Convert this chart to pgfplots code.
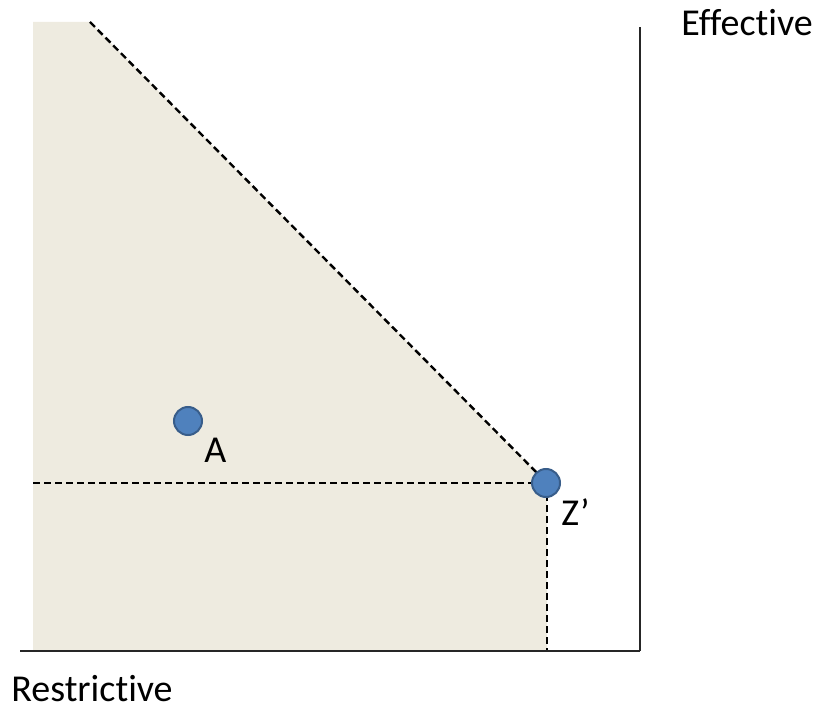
\documentclass[border=0pt]{standalone}
\usepackage{pgfplots}
\pgfplotsset{compat=1.18}
\usepackage{fontspec}
\setmainfont[Ligatures={NoCommon}]{Carlito}
\definecolor{regionfill}{HTML}{EEEBE0}
\definecolor{dotfill}{HTML}{4F81BD}
\definecolor{dotedge}{HTML}{385D8A}
\begin{document}
\begin{tikzpicture}
\begin{axis}[
  width=412pt, height=356pt, scale only axis,
  xmin=0, xmax=824, ymin=0, ymax=712,
  hide axis, clip=false,
]
% invisible frame to fix bounding box
\addplot[draw=none, forget plot] coordinates {(0,0) (824,712)};
% feasible region
\addplot[fill=regionfill, draw=none] coordinates {(33,62) (33,690) (90,690) (547,229) (547,62)} -- cycle;
% dashed boundaries
\addplot[black, line width=1.2pt, dash pattern=on 3.5pt off 2pt] coordinates {(90,690) (547,229)};
\addplot[black, line width=1.2pt, dash pattern=on 3.5pt off 2pt] coordinates {(33,229) (547,229)};
\addplot[black, line width=1.2pt, dash pattern=on 3.5pt off 2pt] coordinates {(547,229) (547,62)};
% axes
\addplot[black!85, line width=1pt] coordinates {(20,61) (640,61)};
\addplot[black!85, line width=1pt] coordinates {(640,61) (640,685)};
% points
\addplot[only marks, mark=*, mark size=7pt, mark options={fill=dotfill, draw=dotedge, line width=1pt}] coordinates {(188,291) (546,229)};
\node[inner sep=0pt, anchor=base west, font=\fontsize{19}{22}\selectfont] at (axis cs:204,249) {A};
\node[inner sep=0pt, anchor=base west, font=\fontsize{19}{22}\selectfont] at (axis cs:561,186) {Z’};
\node[inner sep=0pt, anchor=base west, font=\fontsize{19}{22}\selectfont] at (axis cs:681,676) {Effective};
\node[inner sep=0pt, anchor=base west, font=\fontsize{19}{22}\selectfont] at (axis cs:11,11) {Restrictive};
\end{axis}
\end{tikzpicture}
\end{document}
